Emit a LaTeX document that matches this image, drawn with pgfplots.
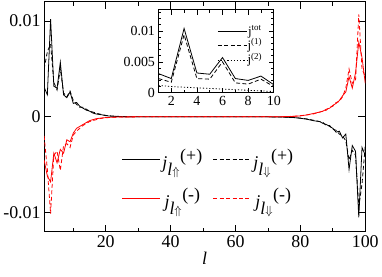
\documentclass[border=0pt]{standalone}
\usepackage{fontspec}
\setmainfont{Liberation Serif}
\usepackage{pgfplots}
\pgfplotsset{compat=1.18}
\pgfplotstableread{
l   bs        bd        rs        rd
1   0.0031    0.0050   -0.0045   -0.0020
2   0.0023    0.0068   -0.0062   -0.0055
3   0.0102    0.0076   -0.0068   -0.0101
4   0.0032    0.0036   -0.0038   -0.0040
5   0.0030    0.0028   -0.0048   -0.0036
6   0.0057    0.0050   -0.0034   -0.0056
7   0.0023    0.0025   -0.0038   -0.0030
8   0.0020    0.0021   -0.0024   -0.0028
9   0.0026    0.0027   -0.0026   -0.0032
10  0.0014    0.0017   -0.0017   -0.0019
11  0.0015    0.0013   -0.0012   -0.0015
12  0.0011    0.0010   -0.0010   -0.0012
13  0.0009    0.0010   -0.0008   -0.0009
14  0.0007    0.0008   -0.0006   -0.0007
15  0.0006    0.0006   -0.0004   -0.0005
16  0.0004    0.0005   -0.0003   -0.0004
17  0.0003    0.0004   -0.0002   -0.0003
18  0.00025   0.0003   -0.00015  -0.0002
19  0.0002    0.00022  -0.00011  -0.00014
20  0.00012   0.00015  -0.00008  -0.0001
22  0.00006   0.00008  -0.00004  -0.00005
25  0.00002   0.00003  -0.00001  -0.00001
30  0         0         0         0
70  0         0         0         0
75 -0.00003  -0.00003   0.00002   0.00002
78 -0.00008  -0.00007   0.00005   0.00006
80 -0.00015  -0.00013   0.0001    0.00012
82 -0.00025  -0.00022   0.0002    0.0002
84 -0.0004   -0.00035   0.00035   0.0003
86 -0.0005   -0.0005    0.0005    0.0005
87 -0.0007   -0.0006    0.0006    0.0006
88 -0.0008   -0.0009    0.0008    0.0007
89 -0.0010   -0.0009    0.0009    0.0010
90 -0.0012   -0.0013    0.0012    0.0011
91 -0.0016   -0.0014    0.0014    0.0015
92 -0.0015   -0.0018    0.0017    0.0016
93 -0.0022   -0.0020    0.0022    0.0021
94 -0.0018   -0.0025    0.0026    0.0030
95 -0.0055   -0.0045    0.0042    0.0050
96 -0.0030   -0.0035    0.0030    0.0035
97 -0.0036   -0.0040    0.0046    0.0038
98 -0.0105   -0.0094    0.0078    0.0107
99 -0.0032   -0.0070    0.0062    0.0050
100 -0.0040  -0.0030    0.0035    0.0042
}\maindata
\pgfplotstableread{
l   tot      one      two
1   0.0031   0.0023   0.0012
2   0.0023   0.0017   0.0010
3   0.0104   0.0094   0.0009
4   0.0032   0.0023   0.0008
5   0.0030   0.0022   0.0007
6   0.0057   0.0050   0.0006
7   0.0023   0.0016   0.0005
8   0.0020   0.0014   0.0004
9   0.0027   0.0022   0.0003
10  0.0013   0.0010   0.0002
}\insetdata
\newcommand{\insup}[1]{\raisebox{5pt}{\fontsize{9}{9}\selectfont #1}}
\begin{document}
\begin{tikzpicture}
\pgfplotsset{/pgf/number format/assume math mode=true}
\begin{axis}[name=main, at={(0pt,0pt)}, anchor=south west,
  scale only axis, width=323pt, height=231pt,
  xmin=1, xmax=100, ymin=-0.012, ymax=0.012,
  xtick={20,40,60,80,100}, minor xtick={10,30,50,70,90},
  ytick={-0.01,0,0.01}, yticklabels={-0.01,0,0.01},
  scaled y ticks=false,
  tick align=inside, major tick length=7pt, minor tick length=4pt,
  tick style={line width=0.8pt, black},
  axis line style={line width=1pt},
  ticklabel style={font=\fontsize{18}{20}\selectfont},
  xlabel={\textit{l}}, xlabel style={font=\fontsize{18}{20}\selectfont, yshift=2pt},
  legend columns=2,
  legend image code/.code={\draw[#1, line width=1pt] (0pt,0pt) -- (38pt,0pt);},
  legend style={draw=none, fill=none, at={(axis description cs:0.241,0.37)}, anchor=north west,
    inner sep=0pt, row sep=14pt, font=\fontsize{18}{20}\selectfont,
    /tikz/every even column/.append style={column sep=8pt}},
]
\addplot[color=black, line width=0.8pt] table[x=l, y=bs] {\maindata};
\addlegendentry{${\textit{j}_{\textit{l}\Uparrow}}^{\textrm{(+)}}$}
\addplot[color=black, line width=0.8pt, dash pattern=on 4pt off 2.5pt] table[x=l, y=bd] {\maindata};
\addlegendentry{${\textit{j}_{\textit{l}\Downarrow}}^{\textrm{(+)}}$}
\addplot[color=red, line width=0.8pt] table[x=l, y=rs] {\maindata};
\addlegendentry{${\textit{j}_{\textit{l}\Uparrow}}^{\textrm{(-)}}$}
\addplot[color=red, line width=0.8pt, dash pattern=on 4pt off 2.5pt] table[x=l, y=rd] {\maindata};
\addlegendentry{${\textit{j}_{\textit{l}\Downarrow}}^{\textrm{(-)}}$}
\end{axis}
\begin{axis}[at={(115pt,139.7pt)}, anchor=south west,
  scale only axis, width=116pt, height=83.3pt,
  axis background/.style={fill=white},
  xmin=1, xmax=10, ymin=0, ymax=0.0134,
  xtick={2,4,6,8,10}, minor xtick={3,5,7,9},
  ytick={0,0.005,0.01}, yticklabels={0,0.005,0.01},
  minor ytick={0.001,0.002,0.003,0.004,0.006,0.007,0.008,0.009,0.011,0.012,0.013},
  scaled y ticks=false,
  tick align=inside, major tick length=5pt, minor tick length=3pt,
  tick style={line width=0.7pt, black},
  axis line style={line width=1pt},
  ticklabel style={font=\fontsize{14}{16}\selectfont},
  legend image code/.code={\draw[#1] (0pt,0pt) -- (29pt,0pt);},
  legend style={draw=none, fill=none, at={(axis description cs:0.51,0.83)}, anchor=north west,
    inner sep=0pt, row sep=0pt, font=\fontsize{13}{14}\selectfont,
    nodes={inner sep=0.5pt, text height=10.5pt, text depth=3pt}},
]
\addplot[black, line width=0.8pt] table[x=l, y=tot] {\insetdata};
\addlegendentry{j\insup{tot}}
\addplot[black, line width=0.8pt, dash pattern=on 4pt off 2.5pt] table[x=l, y=one] {\insetdata};
\addlegendentry{j\insup{(1)}}
\addplot[black, line width=0.8pt, dash pattern=on 1.2pt off 2pt] table[x=l, y=two] {\insetdata};
\addlegendentry{j\insup{(2)}}
\end{axis}
\path (-43pt,-45pt) rectangle (339pt,233pt);
\end{tikzpicture}
\end{document}
